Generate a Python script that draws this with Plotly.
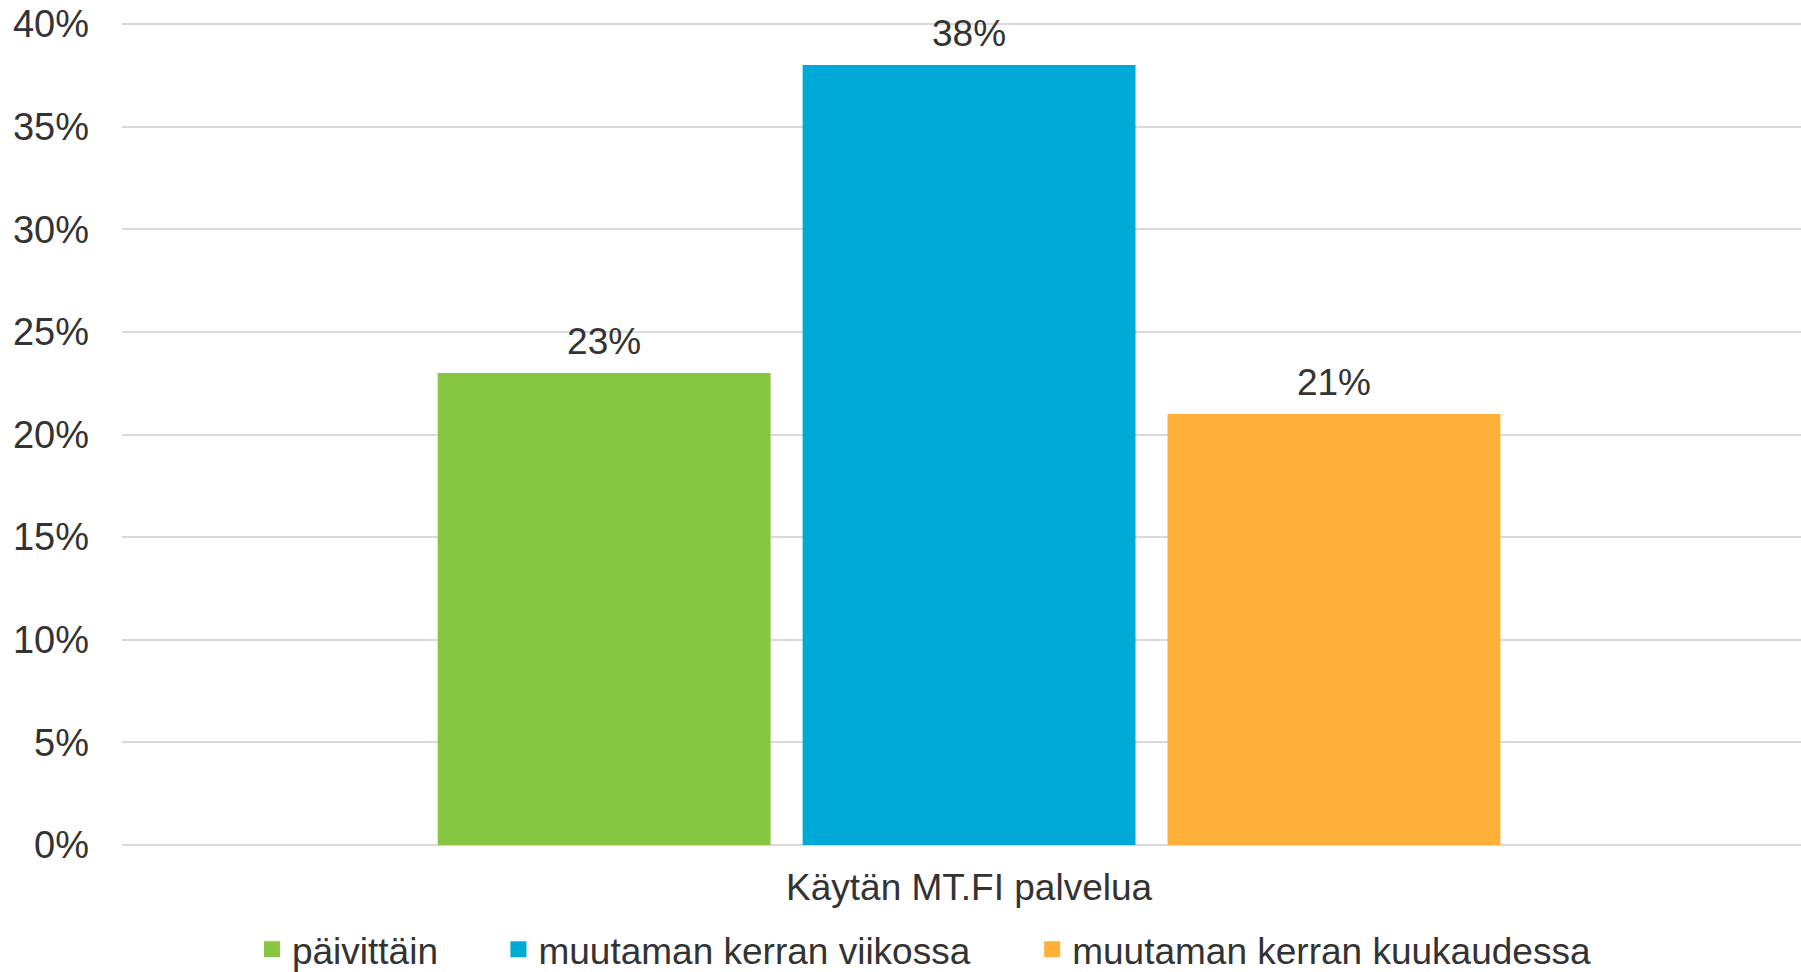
import plotly.graph_objects as go

category = ["Käytän MT.FI palvelua"]
series_names = ["päivittäin", "muutaman kerran viikossa", "muutaman kerran kuukaudessa"]
series_values = [0.23, 0.38, 0.21]
series_colors = ["#86C641", "#00AAD6", "#FFB038"]

font_family = "Liberation Sans, Arial, sans-serif"
text_color = "#333333"

# legend slots (one small legend per series, placed like the original)
legend_ids = ["legend", "legend2", "legend3"]
legend_x = [0.0774, 0.2242, 0.5421]

fig = go.Figure()
for i, (name, val, col) in enumerate(zip(series_names, series_values, series_colors)):
    fig.add_trace(go.Bar(
        x=category, y=[val], name=name, offsetgroup=str(i),
        marker=dict(color=col, line=dict(width=0)),
        showlegend=False,
    ))
# value labels, grouped like the bars
for i, (name, val) in enumerate(zip(series_names, series_values)):
    fig.add_trace(go.Scatter(
        x=category, y=[val], offsetgroup=str(i), mode="markers+text",
        marker=dict(size=14, opacity=0), text=[f"{val:.0%}"], textposition="top center",
        textfont=dict(size=37, color=text_color, family=font_family),
        showlegend=False, hoverinfo="skip", cliponaxis=False,
    ))
# legend entries with larger square symbols
for i, (name, col) in enumerate(zip(series_names, series_colors)):
    fig.add_trace(go.Scatter(
        x=[None], y=[None], name=name, mode="markers", legend=legend_ids[i],
        marker=dict(symbol="square", size=19, color=col),
    ))

legend_style = dict(orientation="h", xanchor="left", y=-0.1272, yanchor="middle",
                    font=dict(size=37, color=text_color), itemwidth=30,
                    bgcolor="rgba(0,0,0,0)", borderwidth=0)

fig.update_layout(
    width=1801, height=972,
    paper_bgcolor="white", plot_bgcolor="white",
    margin=dict(l=122, r=0, t=22, b=127, autoexpand=False),
    barmode="group", bargap=0.348, bargroupgap=0.0877,
    scattermode="group", scattergap=0.348,
    font=dict(family=font_family, size=37, color=text_color),
    showlegend=True,
    legend=dict(x=legend_x[0], **legend_style),
    legend2=dict(x=legend_x[1], **legend_style),
    legend3=dict(x=legend_x[2], **legend_style),
    xaxis=dict(showgrid=False, showline=False, ticks="", ticklabelstandoff=17,
               range=[-0.5045, 0.4955], automargin=False,
               tickfont=dict(size=37, color=text_color)),
    yaxis=dict(range=[0, 0.401], dtick=0.05, tickformat=".0%", showgrid=True,
               gridcolor="#D9D9D9", gridwidth=2, zeroline=True, zerolinecolor="#D9D9D9",
               zerolinewidth=2, showline=False, ticks="", ticklabelstandoff=32,
               automargin=False, tickfont=dict(size=38, color=text_color)),
)

fig.write_html("out.html", config={"displayModeBar": False},
               post_script="document.body.style.margin = '0px';")
